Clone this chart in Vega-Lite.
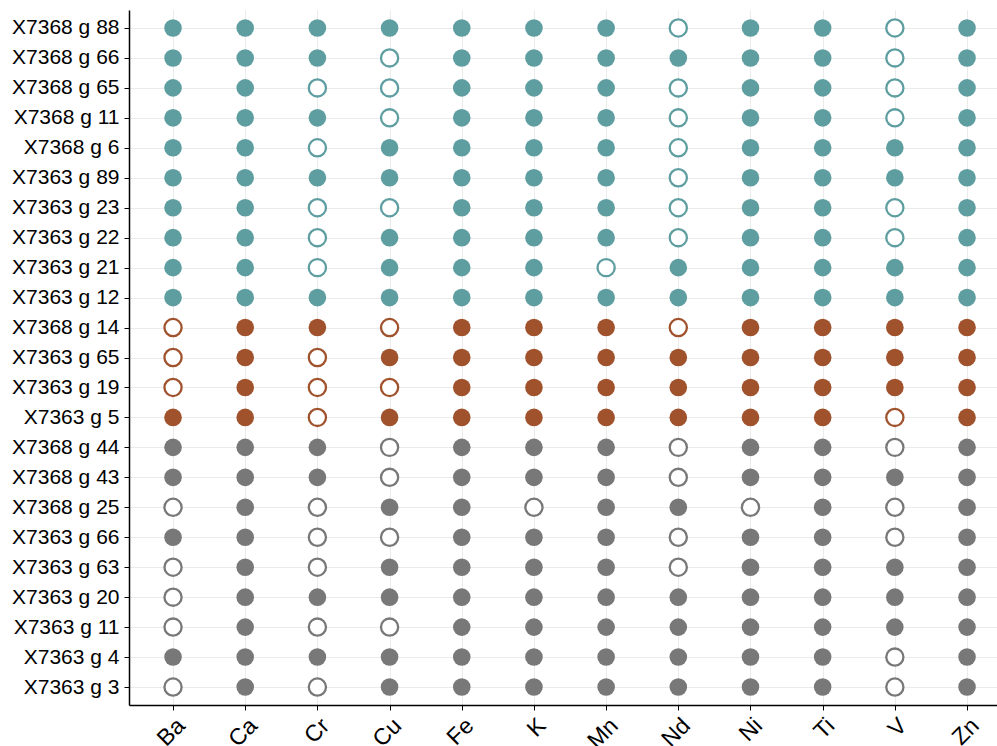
{
"$schema": "https://vega.github.io/schema/vega-lite/v6.json",
"width": 868, "height": 695,
"autosize": {"type": "none"},
"padding": {"left": 129, "top": 10, "right": 0, "bottom": 41},
"background": "white",
"config": {
 "view": {"stroke": null},
 "font": "Liberation Sans",
 "axis": {"gridColor": "#EBEBEB", "gridWidth": 1, "domainColor": "black", "domainWidth": 1.5, "tickColor": "black", "tickWidth": 1, "tickSize": 5, "labelColor": "black", "labelFont": "Liberation Sans", "title": null}
},
"data": {"values": [
{"sample":"X7368 g 88","element":"Ba","cluster":"A","filled":1},{"sample":"X7368 g 88","element":"Ca","cluster":"A","filled":1},{"sample":"X7368 g 88","element":"Cr","cluster":"A","filled":1},{"sample":"X7368 g 88","element":"Cu","cluster":"A","filled":1},{"sample":"X7368 g 88","element":"Fe","cluster":"A","filled":1},{"sample":"X7368 g 88","element":"K","cluster":"A","filled":1},{"sample":"X7368 g 88","element":"Mn","cluster":"A","filled":1},{"sample":"X7368 g 88","element":"Nd","cluster":"A","filled":0},{"sample":"X7368 g 88","element":"Ni","cluster":"A","filled":1},{"sample":"X7368 g 88","element":"Ti","cluster":"A","filled":1},{"sample":"X7368 g 88","element":"V","cluster":"A","filled":0},{"sample":"X7368 g 88","element":"Zn","cluster":"A","filled":1},
{"sample":"X7368 g 66","element":"Ba","cluster":"A","filled":1},{"sample":"X7368 g 66","element":"Ca","cluster":"A","filled":1},{"sample":"X7368 g 66","element":"Cr","cluster":"A","filled":1},{"sample":"X7368 g 66","element":"Cu","cluster":"A","filled":0},{"sample":"X7368 g 66","element":"Fe","cluster":"A","filled":1},{"sample":"X7368 g 66","element":"K","cluster":"A","filled":1},{"sample":"X7368 g 66","element":"Mn","cluster":"A","filled":1},{"sample":"X7368 g 66","element":"Nd","cluster":"A","filled":1},{"sample":"X7368 g 66","element":"Ni","cluster":"A","filled":1},{"sample":"X7368 g 66","element":"Ti","cluster":"A","filled":1},{"sample":"X7368 g 66","element":"V","cluster":"A","filled":0},{"sample":"X7368 g 66","element":"Zn","cluster":"A","filled":1},
{"sample":"X7368 g 65","element":"Ba","cluster":"A","filled":1},{"sample":"X7368 g 65","element":"Ca","cluster":"A","filled":1},{"sample":"X7368 g 65","element":"Cr","cluster":"A","filled":0},{"sample":"X7368 g 65","element":"Cu","cluster":"A","filled":0},{"sample":"X7368 g 65","element":"Fe","cluster":"A","filled":1},{"sample":"X7368 g 65","element":"K","cluster":"A","filled":1},{"sample":"X7368 g 65","element":"Mn","cluster":"A","filled":1},{"sample":"X7368 g 65","element":"Nd","cluster":"A","filled":0},{"sample":"X7368 g 65","element":"Ni","cluster":"A","filled":1},{"sample":"X7368 g 65","element":"Ti","cluster":"A","filled":1},{"sample":"X7368 g 65","element":"V","cluster":"A","filled":0},{"sample":"X7368 g 65","element":"Zn","cluster":"A","filled":1},
{"sample":"X7368 g 11","element":"Ba","cluster":"A","filled":1},{"sample":"X7368 g 11","element":"Ca","cluster":"A","filled":1},{"sample":"X7368 g 11","element":"Cr","cluster":"A","filled":1},{"sample":"X7368 g 11","element":"Cu","cluster":"A","filled":0},{"sample":"X7368 g 11","element":"Fe","cluster":"A","filled":1},{"sample":"X7368 g 11","element":"K","cluster":"A","filled":1},{"sample":"X7368 g 11","element":"Mn","cluster":"A","filled":1},{"sample":"X7368 g 11","element":"Nd","cluster":"A","filled":0},{"sample":"X7368 g 11","element":"Ni","cluster":"A","filled":1},{"sample":"X7368 g 11","element":"Ti","cluster":"A","filled":1},{"sample":"X7368 g 11","element":"V","cluster":"A","filled":0},{"sample":"X7368 g 11","element":"Zn","cluster":"A","filled":1},
{"sample":"X7368 g 6","element":"Ba","cluster":"A","filled":1},{"sample":"X7368 g 6","element":"Ca","cluster":"A","filled":1},{"sample":"X7368 g 6","element":"Cr","cluster":"A","filled":0},{"sample":"X7368 g 6","element":"Cu","cluster":"A","filled":1},{"sample":"X7368 g 6","element":"Fe","cluster":"A","filled":1},{"sample":"X7368 g 6","element":"K","cluster":"A","filled":1},{"sample":"X7368 g 6","element":"Mn","cluster":"A","filled":1},{"sample":"X7368 g 6","element":"Nd","cluster":"A","filled":0},{"sample":"X7368 g 6","element":"Ni","cluster":"A","filled":1},{"sample":"X7368 g 6","element":"Ti","cluster":"A","filled":1},{"sample":"X7368 g 6","element":"V","cluster":"A","filled":1},{"sample":"X7368 g 6","element":"Zn","cluster":"A","filled":1},
{"sample":"X7363 g 89","element":"Ba","cluster":"A","filled":1},{"sample":"X7363 g 89","element":"Ca","cluster":"A","filled":1},{"sample":"X7363 g 89","element":"Cr","cluster":"A","filled":1},{"sample":"X7363 g 89","element":"Cu","cluster":"A","filled":1},{"sample":"X7363 g 89","element":"Fe","cluster":"A","filled":1},{"sample":"X7363 g 89","element":"K","cluster":"A","filled":1},{"sample":"X7363 g 89","element":"Mn","cluster":"A","filled":1},{"sample":"X7363 g 89","element":"Nd","cluster":"A","filled":0},{"sample":"X7363 g 89","element":"Ni","cluster":"A","filled":1},{"sample":"X7363 g 89","element":"Ti","cluster":"A","filled":1},{"sample":"X7363 g 89","element":"V","cluster":"A","filled":1},{"sample":"X7363 g 89","element":"Zn","cluster":"A","filled":1},
{"sample":"X7363 g 23","element":"Ba","cluster":"A","filled":1},{"sample":"X7363 g 23","element":"Ca","cluster":"A","filled":1},{"sample":"X7363 g 23","element":"Cr","cluster":"A","filled":0},{"sample":"X7363 g 23","element":"Cu","cluster":"A","filled":0},{"sample":"X7363 g 23","element":"Fe","cluster":"A","filled":1},{"sample":"X7363 g 23","element":"K","cluster":"A","filled":1},{"sample":"X7363 g 23","element":"Mn","cluster":"A","filled":1},{"sample":"X7363 g 23","element":"Nd","cluster":"A","filled":0},{"sample":"X7363 g 23","element":"Ni","cluster":"A","filled":1},{"sample":"X7363 g 23","element":"Ti","cluster":"A","filled":1},{"sample":"X7363 g 23","element":"V","cluster":"A","filled":0},{"sample":"X7363 g 23","element":"Zn","cluster":"A","filled":1},
{"sample":"X7363 g 22","element":"Ba","cluster":"A","filled":1},{"sample":"X7363 g 22","element":"Ca","cluster":"A","filled":1},{"sample":"X7363 g 22","element":"Cr","cluster":"A","filled":0},{"sample":"X7363 g 22","element":"Cu","cluster":"A","filled":1},{"sample":"X7363 g 22","element":"Fe","cluster":"A","filled":1},{"sample":"X7363 g 22","element":"K","cluster":"A","filled":1},{"sample":"X7363 g 22","element":"Mn","cluster":"A","filled":1},{"sample":"X7363 g 22","element":"Nd","cluster":"A","filled":0},{"sample":"X7363 g 22","element":"Ni","cluster":"A","filled":1},{"sample":"X7363 g 22","element":"Ti","cluster":"A","filled":1},{"sample":"X7363 g 22","element":"V","cluster":"A","filled":0},{"sample":"X7363 g 22","element":"Zn","cluster":"A","filled":1},
{"sample":"X7363 g 21","element":"Ba","cluster":"A","filled":1},{"sample":"X7363 g 21","element":"Ca","cluster":"A","filled":1},{"sample":"X7363 g 21","element":"Cr","cluster":"A","filled":0},{"sample":"X7363 g 21","element":"Cu","cluster":"A","filled":1},{"sample":"X7363 g 21","element":"Fe","cluster":"A","filled":1},{"sample":"X7363 g 21","element":"K","cluster":"A","filled":1},{"sample":"X7363 g 21","element":"Mn","cluster":"A","filled":0},{"sample":"X7363 g 21","element":"Nd","cluster":"A","filled":1},{"sample":"X7363 g 21","element":"Ni","cluster":"A","filled":1},{"sample":"X7363 g 21","element":"Ti","cluster":"A","filled":1},{"sample":"X7363 g 21","element":"V","cluster":"A","filled":1},{"sample":"X7363 g 21","element":"Zn","cluster":"A","filled":1},
{"sample":"X7363 g 12","element":"Ba","cluster":"A","filled":1},{"sample":"X7363 g 12","element":"Ca","cluster":"A","filled":1},{"sample":"X7363 g 12","element":"Cr","cluster":"A","filled":1},{"sample":"X7363 g 12","element":"Cu","cluster":"A","filled":1},{"sample":"X7363 g 12","element":"Fe","cluster":"A","filled":1},{"sample":"X7363 g 12","element":"K","cluster":"A","filled":1},{"sample":"X7363 g 12","element":"Mn","cluster":"A","filled":1},{"sample":"X7363 g 12","element":"Nd","cluster":"A","filled":1},{"sample":"X7363 g 12","element":"Ni","cluster":"A","filled":1},{"sample":"X7363 g 12","element":"Ti","cluster":"A","filled":1},{"sample":"X7363 g 12","element":"V","cluster":"A","filled":1},{"sample":"X7363 g 12","element":"Zn","cluster":"A","filled":1},
{"sample":"X7368 g 14","element":"Ba","cluster":"B","filled":0},{"sample":"X7368 g 14","element":"Ca","cluster":"B","filled":1},{"sample":"X7368 g 14","element":"Cr","cluster":"B","filled":1},{"sample":"X7368 g 14","element":"Cu","cluster":"B","filled":0},{"sample":"X7368 g 14","element":"Fe","cluster":"B","filled":1},{"sample":"X7368 g 14","element":"K","cluster":"B","filled":1},{"sample":"X7368 g 14","element":"Mn","cluster":"B","filled":1},{"sample":"X7368 g 14","element":"Nd","cluster":"B","filled":0},{"sample":"X7368 g 14","element":"Ni","cluster":"B","filled":1},{"sample":"X7368 g 14","element":"Ti","cluster":"B","filled":1},{"sample":"X7368 g 14","element":"V","cluster":"B","filled":1},{"sample":"X7368 g 14","element":"Zn","cluster":"B","filled":1},
{"sample":"X7363 g 65","element":"Ba","cluster":"B","filled":0},{"sample":"X7363 g 65","element":"Ca","cluster":"B","filled":1},{"sample":"X7363 g 65","element":"Cr","cluster":"B","filled":0},{"sample":"X7363 g 65","element":"Cu","cluster":"B","filled":1},{"sample":"X7363 g 65","element":"Fe","cluster":"B","filled":1},{"sample":"X7363 g 65","element":"K","cluster":"B","filled":1},{"sample":"X7363 g 65","element":"Mn","cluster":"B","filled":1},{"sample":"X7363 g 65","element":"Nd","cluster":"B","filled":1},{"sample":"X7363 g 65","element":"Ni","cluster":"B","filled":1},{"sample":"X7363 g 65","element":"Ti","cluster":"B","filled":1},{"sample":"X7363 g 65","element":"V","cluster":"B","filled":1},{"sample":"X7363 g 65","element":"Zn","cluster":"B","filled":1},
{"sample":"X7363 g 19","element":"Ba","cluster":"B","filled":0},{"sample":"X7363 g 19","element":"Ca","cluster":"B","filled":1},{"sample":"X7363 g 19","element":"Cr","cluster":"B","filled":0},{"sample":"X7363 g 19","element":"Cu","cluster":"B","filled":0},{"sample":"X7363 g 19","element":"Fe","cluster":"B","filled":1},{"sample":"X7363 g 19","element":"K","cluster":"B","filled":1},{"sample":"X7363 g 19","element":"Mn","cluster":"B","filled":1},{"sample":"X7363 g 19","element":"Nd","cluster":"B","filled":1},{"sample":"X7363 g 19","element":"Ni","cluster":"B","filled":1},{"sample":"X7363 g 19","element":"Ti","cluster":"B","filled":1},{"sample":"X7363 g 19","element":"V","cluster":"B","filled":1},{"sample":"X7363 g 19","element":"Zn","cluster":"B","filled":1},
{"sample":"X7363 g 5","element":"Ba","cluster":"B","filled":1},{"sample":"X7363 g 5","element":"Ca","cluster":"B","filled":1},{"sample":"X7363 g 5","element":"Cr","cluster":"B","filled":0},{"sample":"X7363 g 5","element":"Cu","cluster":"B","filled":1},{"sample":"X7363 g 5","element":"Fe","cluster":"B","filled":1},{"sample":"X7363 g 5","element":"K","cluster":"B","filled":1},{"sample":"X7363 g 5","element":"Mn","cluster":"B","filled":1},{"sample":"X7363 g 5","element":"Nd","cluster":"B","filled":1},{"sample":"X7363 g 5","element":"Ni","cluster":"B","filled":1},{"sample":"X7363 g 5","element":"Ti","cluster":"B","filled":1},{"sample":"X7363 g 5","element":"V","cluster":"B","filled":0},{"sample":"X7363 g 5","element":"Zn","cluster":"B","filled":1},
{"sample":"X7368 g 44","element":"Ba","cluster":"C","filled":1},{"sample":"X7368 g 44","element":"Ca","cluster":"C","filled":1},{"sample":"X7368 g 44","element":"Cr","cluster":"C","filled":1},{"sample":"X7368 g 44","element":"Cu","cluster":"C","filled":0},{"sample":"X7368 g 44","element":"Fe","cluster":"C","filled":1},{"sample":"X7368 g 44","element":"K","cluster":"C","filled":1},{"sample":"X7368 g 44","element":"Mn","cluster":"C","filled":1},{"sample":"X7368 g 44","element":"Nd","cluster":"C","filled":0},{"sample":"X7368 g 44","element":"Ni","cluster":"C","filled":1},{"sample":"X7368 g 44","element":"Ti","cluster":"C","filled":1},{"sample":"X7368 g 44","element":"V","cluster":"C","filled":0},{"sample":"X7368 g 44","element":"Zn","cluster":"C","filled":1},
{"sample":"X7368 g 43","element":"Ba","cluster":"C","filled":1},{"sample":"X7368 g 43","element":"Ca","cluster":"C","filled":1},{"sample":"X7368 g 43","element":"Cr","cluster":"C","filled":1},{"sample":"X7368 g 43","element":"Cu","cluster":"C","filled":0},{"sample":"X7368 g 43","element":"Fe","cluster":"C","filled":1},{"sample":"X7368 g 43","element":"K","cluster":"C","filled":1},{"sample":"X7368 g 43","element":"Mn","cluster":"C","filled":1},{"sample":"X7368 g 43","element":"Nd","cluster":"C","filled":0},{"sample":"X7368 g 43","element":"Ni","cluster":"C","filled":1},{"sample":"X7368 g 43","element":"Ti","cluster":"C","filled":1},{"sample":"X7368 g 43","element":"V","cluster":"C","filled":1},{"sample":"X7368 g 43","element":"Zn","cluster":"C","filled":1},
{"sample":"X7368 g 25","element":"Ba","cluster":"C","filled":0},{"sample":"X7368 g 25","element":"Ca","cluster":"C","filled":1},{"sample":"X7368 g 25","element":"Cr","cluster":"C","filled":0},{"sample":"X7368 g 25","element":"Cu","cluster":"C","filled":1},{"sample":"X7368 g 25","element":"Fe","cluster":"C","filled":1},{"sample":"X7368 g 25","element":"K","cluster":"C","filled":0},{"sample":"X7368 g 25","element":"Mn","cluster":"C","filled":1},{"sample":"X7368 g 25","element":"Nd","cluster":"C","filled":1},{"sample":"X7368 g 25","element":"Ni","cluster":"C","filled":0},{"sample":"X7368 g 25","element":"Ti","cluster":"C","filled":1},{"sample":"X7368 g 25","element":"V","cluster":"C","filled":0},{"sample":"X7368 g 25","element":"Zn","cluster":"C","filled":1},
{"sample":"X7363 g 66","element":"Ba","cluster":"C","filled":1},{"sample":"X7363 g 66","element":"Ca","cluster":"C","filled":1},{"sample":"X7363 g 66","element":"Cr","cluster":"C","filled":0},{"sample":"X7363 g 66","element":"Cu","cluster":"C","filled":0},{"sample":"X7363 g 66","element":"Fe","cluster":"C","filled":1},{"sample":"X7363 g 66","element":"K","cluster":"C","filled":1},{"sample":"X7363 g 66","element":"Mn","cluster":"C","filled":1},{"sample":"X7363 g 66","element":"Nd","cluster":"C","filled":0},{"sample":"X7363 g 66","element":"Ni","cluster":"C","filled":1},{"sample":"X7363 g 66","element":"Ti","cluster":"C","filled":1},{"sample":"X7363 g 66","element":"V","cluster":"C","filled":0},{"sample":"X7363 g 66","element":"Zn","cluster":"C","filled":1},
{"sample":"X7363 g 63","element":"Ba","cluster":"C","filled":0},{"sample":"X7363 g 63","element":"Ca","cluster":"C","filled":1},{"sample":"X7363 g 63","element":"Cr","cluster":"C","filled":0},{"sample":"X7363 g 63","element":"Cu","cluster":"C","filled":1},{"sample":"X7363 g 63","element":"Fe","cluster":"C","filled":1},{"sample":"X7363 g 63","element":"K","cluster":"C","filled":1},{"sample":"X7363 g 63","element":"Mn","cluster":"C","filled":1},{"sample":"X7363 g 63","element":"Nd","cluster":"C","filled":0},{"sample":"X7363 g 63","element":"Ni","cluster":"C","filled":1},{"sample":"X7363 g 63","element":"Ti","cluster":"C","filled":1},{"sample":"X7363 g 63","element":"V","cluster":"C","filled":1},{"sample":"X7363 g 63","element":"Zn","cluster":"C","filled":1},
{"sample":"X7363 g 20","element":"Ba","cluster":"C","filled":0},{"sample":"X7363 g 20","element":"Ca","cluster":"C","filled":1},{"sample":"X7363 g 20","element":"Cr","cluster":"C","filled":1},{"sample":"X7363 g 20","element":"Cu","cluster":"C","filled":1},{"sample":"X7363 g 20","element":"Fe","cluster":"C","filled":1},{"sample":"X7363 g 20","element":"K","cluster":"C","filled":1},{"sample":"X7363 g 20","element":"Mn","cluster":"C","filled":1},{"sample":"X7363 g 20","element":"Nd","cluster":"C","filled":1},{"sample":"X7363 g 20","element":"Ni","cluster":"C","filled":1},{"sample":"X7363 g 20","element":"Ti","cluster":"C","filled":1},{"sample":"X7363 g 20","element":"V","cluster":"C","filled":1},{"sample":"X7363 g 20","element":"Zn","cluster":"C","filled":1},
{"sample":"X7363 g 11","element":"Ba","cluster":"C","filled":0},{"sample":"X7363 g 11","element":"Ca","cluster":"C","filled":1},{"sample":"X7363 g 11","element":"Cr","cluster":"C","filled":0},{"sample":"X7363 g 11","element":"Cu","cluster":"C","filled":0},{"sample":"X7363 g 11","element":"Fe","cluster":"C","filled":1},{"sample":"X7363 g 11","element":"K","cluster":"C","filled":1},{"sample":"X7363 g 11","element":"Mn","cluster":"C","filled":1},{"sample":"X7363 g 11","element":"Nd","cluster":"C","filled":1},{"sample":"X7363 g 11","element":"Ni","cluster":"C","filled":1},{"sample":"X7363 g 11","element":"Ti","cluster":"C","filled":1},{"sample":"X7363 g 11","element":"V","cluster":"C","filled":1},{"sample":"X7363 g 11","element":"Zn","cluster":"C","filled":1},
{"sample":"X7363 g 4","element":"Ba","cluster":"C","filled":1},{"sample":"X7363 g 4","element":"Ca","cluster":"C","filled":1},{"sample":"X7363 g 4","element":"Cr","cluster":"C","filled":1},{"sample":"X7363 g 4","element":"Cu","cluster":"C","filled":1},{"sample":"X7363 g 4","element":"Fe","cluster":"C","filled":1},{"sample":"X7363 g 4","element":"K","cluster":"C","filled":1},{"sample":"X7363 g 4","element":"Mn","cluster":"C","filled":1},{"sample":"X7363 g 4","element":"Nd","cluster":"C","filled":1},{"sample":"X7363 g 4","element":"Ni","cluster":"C","filled":1},{"sample":"X7363 g 4","element":"Ti","cluster":"C","filled":1},{"sample":"X7363 g 4","element":"V","cluster":"C","filled":0},{"sample":"X7363 g 4","element":"Zn","cluster":"C","filled":1},
{"sample":"X7363 g 3","element":"Ba","cluster":"C","filled":0},{"sample":"X7363 g 3","element":"Ca","cluster":"C","filled":1},{"sample":"X7363 g 3","element":"Cr","cluster":"C","filled":0},{"sample":"X7363 g 3","element":"Cu","cluster":"C","filled":1},{"sample":"X7363 g 3","element":"Fe","cluster":"C","filled":1},{"sample":"X7363 g 3","element":"K","cluster":"C","filled":1},{"sample":"X7363 g 3","element":"Mn","cluster":"C","filled":1},{"sample":"X7363 g 3","element":"Nd","cluster":"C","filled":1},{"sample":"X7363 g 3","element":"Ni","cluster":"C","filled":1},{"sample":"X7363 g 3","element":"Ti","cluster":"C","filled":1},{"sample":"X7363 g 3","element":"V","cluster":"C","filled":0},{"sample":"X7363 g 3","element":"Zn","cluster":"C","filled":1}
]},
"encoding": {
 "x": {"field": "element", "type": "nominal", "sort": "ascending",
  "scale": {"type": "point", "padding": 0.5126, "align": 0.595},
  "axis": {"grid": true, "labelAngle": -45, "labelAlign": "right", "labelBaseline": "top", "labelFontSize": 23, "labelPadding": 4, "domainWidth": 1.5}},
 "y": {"field": "sample", "type": "nominal",
  "sort": ["X7368 g 88","X7368 g 66","X7368 g 65","X7368 g 11","X7368 g 6","X7363 g 89","X7363 g 23","X7363 g 22","X7363 g 21","X7363 g 12","X7368 g 14","X7363 g 65","X7363 g 19","X7363 g 5","X7368 g 44","X7368 g 43","X7368 g 25","X7363 g 66","X7363 g 63","X7363 g 20","X7363 g 11","X7363 g 4","X7363 g 3"],
  "scale": {"type": "point", "padding": 0.6},
  "axis": {"grid": true, "labelFontSize": 21, "labelPadding": 5}}
},
"layer": [
 {"transform": [{"filter": "datum.filled == 1"}],
  "mark": {"type": "point", "shape": "circle", "filled": true, "opacity": 1, "size": 310},
  "encoding": {"color": {"field": "cluster", "type": "nominal", "scale": {"domain": ["A","B","C"], "range": ["#5F9EA0","#A0522D","#787878"]}, "legend": null}}},
 {"transform": [{"filter": "datum.filled == 0"}],
  "mark": {"type": "point", "shape": "circle", "filled": true, "fill": "white", "opacity": 1, "strokeOpacity": 1, "strokeWidth": 2.3, "size": 295},
  "encoding": {"stroke": {"field": "cluster", "type": "nominal", "scale": {"domain": ["A","B","C"], "range": ["#5F9EA0","#A0522D","#787878"]}, "legend": null}}}
]
}
